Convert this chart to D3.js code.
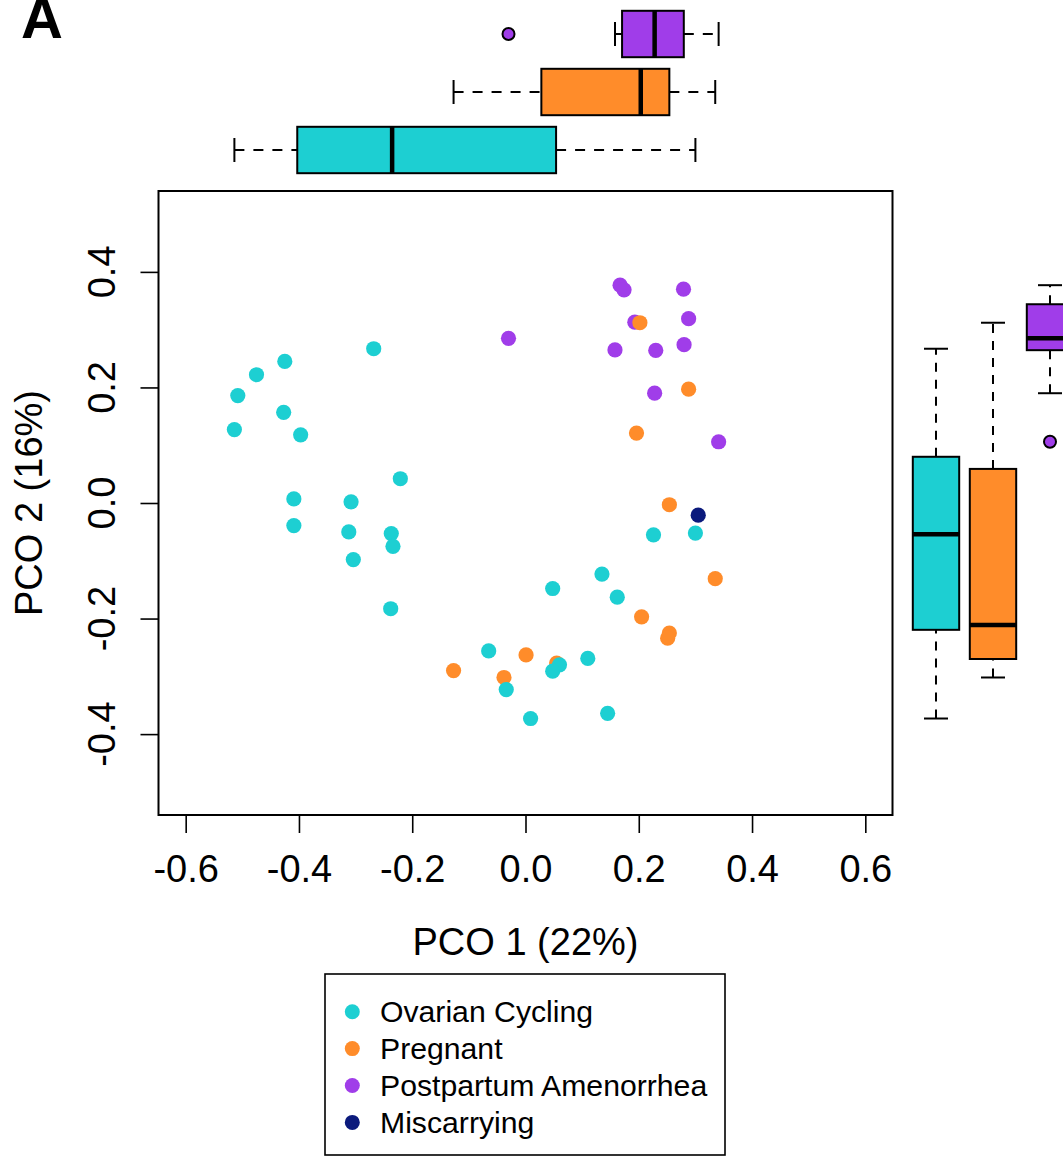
<!DOCTYPE html>
<html>
<head>
<meta charset="utf-8">
<script src="https://cdn.jsdelivr.net/npm/d3@7"></script>
<style>
  body { margin: 0; background: #fff; }
  svg { display: block; }
  text { font-family: "Liberation Sans", Arial, Helvetica, sans-serif; fill: #000; }
</style>
</head>
<body>
<svg id="chart" width="1063" height="1158"></svg>
<script>
  // Groups, in legend order
  const groups = ['Ovarian Cycling', 'Pregnant', 'Postpartum Amenorrhea', 'Miscarrying'];
  const groupColors = ['#1DCFD2', '#FF8C2A', '#A03DE9', '#0B1A7C'];

  // PCO coordinates
  const ovarianX = [-0.514, -0.508, -0.475, -0.425, -0.427, -0.397, -0.268, -0.221, -0.409, -0.409,
    -0.308, -0.312, -0.237, -0.234, -0.304, -0.238, 0.048, 0.135, 0.162, 0.226,
    0.300, -0.065, 0.110, 0.060, 0.048, -0.034, 0.009, 0.145];
  const ovarianY = [0.127, 0.186, 0.222, 0.245, 0.157, 0.118, 0.267, 0.042, 0.007, -0.039,
    0.002, -0.050, -0.053, -0.075, -0.098, -0.183, -0.148, -0.123, -0.163, -0.055,
    -0.052, -0.256, -0.269, -0.280, -0.291, -0.323, -0.373, -0.364];

  const pregnantX = [0.202, 0.288, 0.196, 0.254, 0.335, 0.205, 0.254, 0.251, 0.001, 0.055, -0.127, -0.038];
  const pregnantY = [0.312, 0.197, 0.121, -0.003, -0.131, -0.197, -0.225, -0.234, -0.263, -0.277, -0.290, -0.302];

  const postpartumX = [0.167, 0.174, 0.279, 0.193, 0.288, -0.030, 0.158, 0.230, 0.280, 0.228, 0.341];
  const postpartumY = [0.377, 0.369, 0.370, 0.313, 0.319, 0.285, 0.265, 0.264, 0.274, 0.190, 0.106];

  const miscarryingX = [0.305];
  const miscarryingY = [-0.021];

  const xTicks = [-0.6, -0.4, -0.2, 0.0, 0.2, 0.4, 0.6];
  const yTicks = [-0.4, -0.2, 0.0, 0.2, 0.4];

  const xTitle = 'PCO 1 (22%)';
  const yTitle = 'PCO 2 (16%)';
  const panelLabel = 'A';

  const series = [
    { x: ovarianX, y: ovarianY },
    { x: pregnantX, y: pregnantY },
    { x: postpartumX, y: postpartumY },
    { x: miscarryingX, y: miscarryingY }
  ];

  // Layout
  const plot = { left: 158.5, right: 892.5, top: 191, bottom: 815 };
  const tickLen = 18;
  const boxHalf = 23.2;
  const stapleHalf = 12;

  const svg = d3.select('#chart');

  const x = d3.scaleLinear().domain([-0.648, 0.648]).range([plot.left, plot.right]);
  const y = d3.scaleLinear().domain([-0.54, 0.54]).range([plot.bottom, plot.top]);

  // positions of the marginal boxes (group 1 nearest the plot)
  const posTop = d3.scaleLinear().domain([0, 1]).range([150, 92]);
  const posRight = d3.scaleLinear().domain([0, 1]).range([936, 993]);

  /**
   * R style boxplot stats: Tukey hinges, whiskers at 1.5 IQR
   */
  function boxStats(values) {
    const v = values.slice().sort(d3.ascending);
    const n = v.length;
    const n4 = Math.floor((n + 3) / 2) / 2;
    const idx = [1, n4, (n + 1) / 2, n + 1 - n4, n];
    const f = idx.map(d => 0.5 * (v[Math.floor(d) - 1] + v[Math.ceil(d) - 1]));
    const iqr = f[3] - f[1];
    const loFence = f[1] - 1.5 * iqr;
    const hiFence = f[3] + 1.5 * iqr;
    const inside = v.filter(d => d >= loFence && d <= hiFence);
    return {
      q1: f[1], med: f[2], q3: f[3],
      lo: d3.min(inside), hi: d3.max(inside),
      out: v.filter(d => d < loFence || d > hiFence)
    };
  }

  /*
   * MARGINAL BOXPLOTS
   */
  function drawBoxes(values, scale, pos, horizontal) {
    const g = svg.append('g');
    values.forEach((vals, i) => {
      const s = boxStats(vals);
      const c = pos(i);
      const color = groupColors[i];
      // helper so the same code draws both orientations
      const line = (a1, b1, a2, b2) => horizontal
        ? g.append('line').attr('x1', a1).attr('y1', b1).attr('x2', a2).attr('y2', b2)
        : g.append('line').attr('x1', b1).attr('y1', a1).attr('x2', b2).attr('y2', a2);

      const dash = horizontal ? '10,9' : '9,8';
      line(scale(s.lo), c, scale(s.q1), c).attr('stroke', '#000').attr('stroke-width', 2).attr('stroke-dasharray', dash);
      line(scale(s.q3), c, scale(s.hi), c).attr('stroke', '#000').attr('stroke-width', 2).attr('stroke-dasharray', dash);
      line(scale(s.lo), c - stapleHalf, scale(s.lo), c + stapleHalf).attr('stroke', '#000').attr('stroke-width', 2);
      line(scale(s.hi), c - stapleHalf, scale(s.hi), c + stapleHalf).attr('stroke', '#000').attr('stroke-width', 2);

      const a = Math.min(scale(s.q1), scale(s.q3));
      const len = Math.abs(scale(s.q3) - scale(s.q1));
      g.append('rect')
        .attr('x', horizontal ? a : c - boxHalf)
        .attr('y', horizontal ? c - boxHalf : a)
        .attr('width', horizontal ? len : boxHalf * 2)
        .attr('height', horizontal ? boxHalf * 2 : len)
        .attr('fill', color)
        .attr('stroke', '#000')
        .attr('stroke-width', 2);

      line(scale(s.med), c - boxHalf, scale(s.med), c + boxHalf).attr('stroke', '#000').attr('stroke-width', 4.5);

      s.out.forEach(o => {
        g.append('circle')
          .attr('cx', horizontal ? scale(o) : c)
          .attr('cy', horizontal ? c : scale(o))
          .attr('r', 6)
          .attr('fill', color)
          .attr('stroke', '#000')
          .attr('stroke-width', 2);
      });
    });
  }

  drawBoxes(series.map(d => d.x), x, posTop, true);
  drawBoxes(series.map(d => d.y), y, posRight, false);

  /*
   * SCATTER
   */
  // draw order: postpartum, pregnant, ovarian, miscarrying
  [2, 1, 0, 3].forEach(i => {
    const pts = series[i].x.map((v, j) => [v, series[i].y[j]]);
    svg.append('g').selectAll('circle')
      .data(pts)
      .enter().append('circle')
      .attr('cx', d => x(d[0]))
      .attr('cy', d => y(d[1]))
      .attr('r', 7.6)
      .attr('fill', groupColors[i]);
  });

  svg.append('rect')
    .attr('x', plot.left)
    .attr('y', plot.top)
    .attr('width', plot.right - plot.left)
    .attr('height', plot.bottom - plot.top)
    .attr('fill', 'none')
    .attr('stroke', '#000')
    .attr('stroke-width', 2);

  // Axes
  const xAxis = svg.append('g')
    .attr('transform', `translate(0,${plot.bottom})`)
    .call(d3.axisBottom(x).tickValues(xTicks).tickSize(tickLen).tickPadding(22)
      .tickFormat(d => d.toFixed(1)));
  xAxis.select('.domain').remove();
  xAxis.selectAll('line').attr('stroke', '#000').attr('stroke-width', 1.6);
  xAxis.selectAll('text').attr('font-size', 38).attr('font-family', null);

  const yAxis = svg.append('g')
    .attr('transform', `translate(${plot.left},0)`)
    .call(d3.axisLeft(y).tickValues(yTicks).tickSize(tickLen));
  yAxis.select('.domain').remove();
  yAxis.selectAll('line').attr('stroke', '#000').attr('stroke-width', 1.6);
  yAxis.selectAll('text').remove();

  svg.append('g').selectAll('text')
    .data(yTicks)
    .enter().append('text')
    .attr('transform', d => `translate(115,${y(d)}) rotate(-90)`)
    .attr('text-anchor', 'middle')
    .attr('font-size', 38)
    .text(d => d.toFixed(1));

  svg.append('text')
    .attr('x', (plot.left + plot.right) / 2)
    .attr('y', 955)
    .attr('text-anchor', 'middle')
    .attr('font-size', 38)
    .text(xTitle);

  svg.append('text')
    .attr('transform', `translate(42,${(plot.top + plot.bottom) / 2}) rotate(-90)`)
    .attr('text-anchor', 'middle')
    .attr('font-size', 38)
    .text(yTitle);

  // panel letter sits against the top edge, as in the source figure
  svg.append('text')
    .attr('x', 21)
    .attr('y', 38)
    .attr('font-size', 58)
    .attr('font-weight', 'bold')
    .text(panelLabel);

  /*
   * LEGEND
   */
  const legend = svg.append('g');
  legend.append('rect')
    .attr('x', 325).attr('y', 974)
    .attr('width', 400).attr('height', 181)
    .attr('fill', '#fff')
    .attr('stroke', '#000')
    .attr('stroke-width', 1.6);

  const rowY = d3.scaleLinear().domain([0, 1]).range([1011.7, 1048.6]);
  groups.forEach((name, i) => {
    legend.append('circle')
      .attr('cx', 352.3)
      .attr('cy', rowY(i))
      .attr('r', 7.5)
      .attr('fill', groupColors[i]);
    legend.append('text')
      .attr('x', 380)
      .attr('y', rowY(i) + 10.5)
      .attr('font-size', 30.2)
      .text(name);
  });
</script>
</body>
</html>
